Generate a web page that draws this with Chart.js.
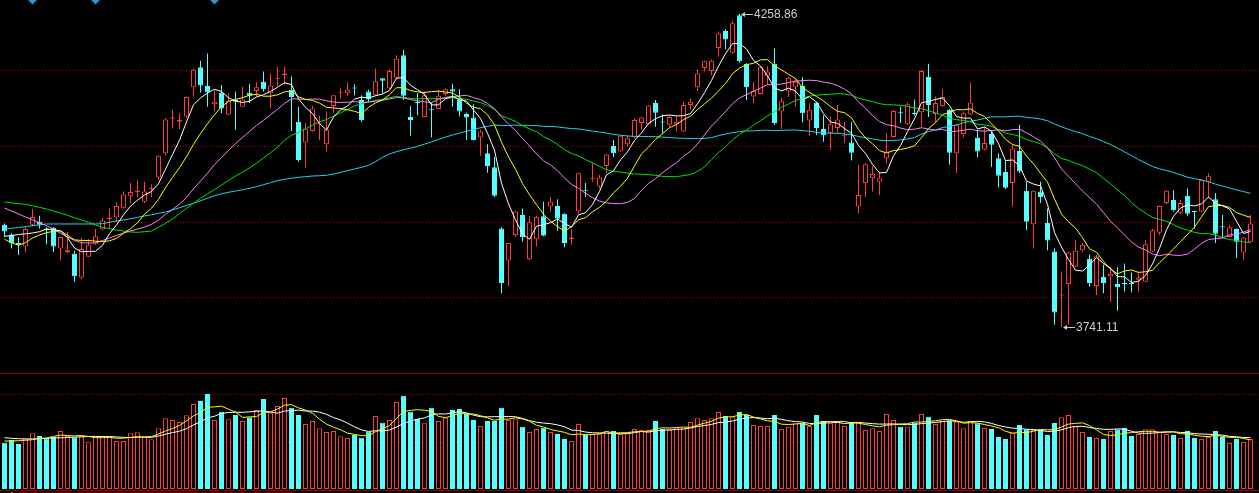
<!DOCTYPE html>
<html lang="zh-CN">
<head>
<meta charset="UTF-8">
<title>K线图</title>
<style>
  html, body { margin: 0; padding: 0; background: #000; }
  #wrap { position: relative; width: 1259px; height: 493px; overflow: hidden; background: #000; }
  #priceBox { position: absolute; left: 0; top: 0; width: 1259px; height: 373px; }
  #volBox { position: absolute; left: 0; top: 373px; width: 1259px; height: 120px; }
</style>
</head>
<body>
<div id="wrap">
  <div id="priceBox"><canvas id="price"></canvas></div>
  <div id="volBox"><canvas id="vol"></canvas></div>
</div>

<script src="https://cdn.jsdelivr.net/npm/chart.js"></script>
<script>
// ---- data ----
const open = [3910,3894,3880,3874,3910,3915,3904,3905,3871,3865,
  3862,3823,3857,3879,3902,3919,3922,3938,3958,3964,
  3948,3969,3988,4028,4085,4080,4089,4137,4170,4139,
  4109,4128,4092,4116,4105,4128,4131,4146,4127,4151,
  4157,4133,4080,4046,4065,4076,4043,4106,4128,4127,
  4136,4116,4130,4124,4152,4135,4153,4190,4088,4112,
  4088,4100,4101,4126,4134,4117,4093,4087,4054,4028,
  4005,3904,3851,3893,3926,3853,3886,3924,3940,3941,
  3928,3886,3932,3967,3986,3973,4007,4040,4031,4043,
  4054,4078,4076,4111,4080,4075,4076,4064,4108,4137,
  4169,4164,4202,4230,4194,4256,4176,4122,4126,4155,
  4176,4097,4130,4138,4139,4082,4112,4068,4062,4070,
  4056,4046,3940,3979,3987,3981,4020,4055,4095,4076,
  4095,4096,4154,4093,4106,4100,4028,4060,4092,4054,
  4034,4060,4020,3997,3979,4032,3966,3911,3965,3913,
  3866,3793,3812,3841,3868,3854,3809,3824,3825,3812,
  3813,3813,3819,3816,3866,3897,3946,3951,3930,3958,
  3932,3932,3981,3952,3907,3890,3903,3864,3882];

const high = [3912,3896,3890,3907,3936,3925,3906,3906,3890,3898,
  3867,3888,3886,3903,3921,3937,3947,3965,3979,3984,
  3981,3977,4025,4086,4100,4094,4122,4168,4181,4193,
  4133,4141,4127,4130,4138,4143,4145,4163,4160,4171,
  4171,4155,4105,4078,4106,4090,4097,4124,4136,4145,
  4142,4124,4133,4168,4152,4167,4190,4199,4106,4127,
  4130,4111,4133,4135,4143,4134,4095,4109,4067,4043,
  4022,3906,3880,3933,3937,3925,3925,3948,3956,3952,
  3929,3903,3996,3979,4012,3992,4027,4050,4058,4058,
  4086,4088,4108,4116,4092,4091,4089,4113,4119,4167,
  4181,4183,4229,4233,4247,4258.86,4177,4146,4171,4172,
  4201,4120,4154,4152,4154,4111,4113,4091,4089,4108,
  4080,4080,4009,4011,4007,3998,4061,4100,4105,4112,
  4117,4166,4176,4122,4134,4101,4076,4097,4145,4067,
  4072,4064,4028,4016,4042,4075,3981,3967,3981,3937,
  3871,3833,3865,3885,3880,3861,3860,3844,3841,3840,
  3846,3831,3833,3885,3903,3942,3967,3967,3951,3970,
  3933,3985,3995,3962,3926,3910,3904,3890,3926];

const low = [3890,3871,3860,3864,3907,3904,3878,3865,3851,3863,
  3816,3820,3857,3877,3901,3904,3915,3937,3946,3956,
  3946,3956,3984,4025,4069,4068,4086,4122,4128,4105,
  4098,4094,4091,4067,4105,4111,4122,4130,4102,4139,
  4141,4065,4014,4004,4064,4050,4031,4095,4119,4123,
  4124,4080,4113,4123,4127,4134,4150,4116,4057,4091,
  4088,4054,4101,4123,4105,4089,4050,4049,4024,3996,
  3956,3797,3809,3890,3882,3852,3874,3891,3932,3900,
  3873,3877,3928,3956,3981,3970,3995,4022,4030,4039,
  4053,4067,4075,4072,4061,4071,4064,4063,4100,4131,
  4163,4157,4188,4200,4193,4178,4116,4111,4125,4141,
  4075,4068,4121,4105,4079,4057,4058,4047,4034,4061,
  4045,4016,3928,3956,3965,3959,4011,4054,4078,4075,
  4091,4072,4088,4078,4105,4009,3995,4054,4091,4021,
  4033,4006,3972,3969,3940,3995,3901,3871,3946,3868,
  3745,3741.11,3745,3840,3865,3808,3794,3797,3783,3768,
  3800,3798,3800,3815,3865,3893,3944,3932,3928,3925,
  3904,3931,3954,3880,3888,3889,3855,3852,3881];

const close = [3899,3880,3877,3903,3923,3910,3901,3874,3890,3868,
  3825,3870,3877,3891,3917,3922,3941,3960,3964,3966,
  3965,3970,4024,4084,4087,4083,4121,4166,4140,4129,
  4113,4102,4115,4113,4117,4123,4137,4134,4140,4152,
  4160,4121,4017,4069,4102,4077,4067,4124,4129,4133,
  4135,4083,4117,4147,4148,4164,4184,4123,4083,4111,
  4124,4099,4123,4134,4130,4097,4087,4050,4064,4007,
  3958,3814,3880,3932,3890,3914,3923,3892,3948,3920,
  3880,3889,3995,3966,3987,3988,4026,4028,4057,4053,
  4083,4087,4107,4095,4079,4088,4080,4108,4113,4160,
  4180,4181,4226,4216,4243,4180,4137,4131,4170,4163,
  4078,4114,4153,4146,4094,4100,4070,4058,4076,4084,
  4057,4029,3959,4010,3994,3987,4031,4098,4094,4109,
  4093,4164,4108,4111,4121,4029,4075,4094,4112,4031,
  4045,4042,3991,3971,4036,3998,3915,3966,3956,3884,
  3765,3795,3864,3867,3877,3814,3858,3814,3829,3807,
  3812,3812,3823,3878,3901,3941,3966,3934,3946,3928,
  3931,3984,3990,3895,3906,3906,3882,3889,3912];

const volume = [463,490,450,507,557,530,507,523,580,530,
  517,523,473,523,530,530,480,480,557,567,
  523,497,607,707,690,670,737,850,880,950,
  690,773,697,740,680,717,790,900,763,830,
  910,813,740,650,680,607,570,580,527,510,
  540,513,573,730,663,690,870,933,773,700,
  663,813,680,713,790,800,757,690,630,680,
  680,813,690,697,623,570,600,613,570,550,
  500,480,650,540,550,550,580,580,550,557,
  600,590,590,680,600,590,613,613,670,707,
  690,707,770,730,717,770,740,640,630,630,
  740,600,623,657,663,630,740,680,657,670,
  630,670,663,590,607,580,750,690,623,623,
  663,750,723,650,680,680,673,607,677,657,
  610,600,520,500,563,640,597,590,590,540,
  660,717,740,623,570,520,510,500,580,597,
  610,530,550,597,597,570,550,540,510,580,
  510,500,520,580,520,460,500,470,500];

// moving-average values at the left edge, before a full window is on screen
const ma5Warm = [3891,3892,3894,3895];
const ma10Warm = [3886.0,3880.4,3876.1,3880.4,3888.1,3893.1,3896.9,3899.2,3900.2];
const ma20Warm = [3937.7,3932.7,3927.8,3922.8,3918.4,3913.4,3908.5,3903.0,3895.9,3889.8,
  3884.4,3880.4,3879.9,3879.9,3884.0,3888.1,3892.3,3896.4,3899.7];
const ma30Warm = [3947.6,3946.4,3944.8,3943.8,3941.5,3938.8,3936.0,3932.7,3929.4,3925.6,
  3921.7,3917.9,3914.1,3909.6,3905.8,3903.5,3901.4,3899.7,3898.0,3897.6,
  3898.5,3899.7,3905.8,3912.4,3919.5,3928.3,3937.2,3945.5,3953.7];
const ma60Warm = [3903.0,3904.2,3905.5,3906.8,3908.5,3909.9,3911.3,3911.3,3911.3,3911.3,
  3911.3,3911.3,3911.3,3911.3,3911.8,3914.1,3916.2,3917.9,3920.0,3922.3,
  3924.5,3926.6,3928.9,3931.1,3934.4,3938.2,3942.1,3945.5,3949.7,3953.7,
  3958.0,3961.3,3963.6,3965.8,3967.9,3970.2,3972.9,3976.2,3979.5,3982.8,
  3985.1,3986.7,3988.4,3989.4,3990.5,3991.0,3991.7,3993.8,3996.6,3999.3,
  4002.1,4004.9,4008.2,4014.2,4021.4,4026.9,4030.7,4033.9,4036.3];
const volMa5Warm = [480,480,483,487];
const volMa10Warm = [513,507,503,500,500,503,507,510,512];

const priceGrid = [4165, 4040, 3915, 3790];
const volGrid = [947, 473];
const markerIdx = [4, 13, 30];
// short marks on the time strip under the volume bars
const stripTicks = [2, 12, 19, 25, 30, 41];

// ---- look ----
const RED = '#ff3c3c';
const CYAN = '#54ffff';
const BLACK = '#000000';
const GRID_RED = '#b00000';
const LINE_RED = '#8c0000';
const LABEL = '#c8cdd6';

const X_MIN = -4.5 / 7;
const X_MAX = X_MIN + 1259 / 7;

function movingAverage(values, n, warm) {
  return values.map((_, i) => {
    if (i < n - 1) return warm[i];
    let s = 0;
    for (let k = i - n + 1; k <= i; k++) s += values[k];
    return s / n;
  });
}
const xy = arr => arr.map((v, i) => ({ x: i, y: v }));

const isUp = close.map((c, i) => c >= open[i]);
const fillCol = isUp.map(u => u ? BLACK : CYAN);
const edgeCol = isUp.map(u => u ? RED : CYAN);

function maLine(data, color) {
  return {
    type: 'line', data: xy(data), borderColor: color, borderWidth: 1,
    pointRadius: 0, tension: 0, order: 0
  };
}

const xScale = {
  type: 'linear', min: X_MIN, max: X_MAX, offset: false,
  display: false, grid: { display: false, offset: false }
};

function dottedLines(chart, values) {
  const { ctx, chartArea, scales: { y } } = chart;
  ctx.save();
  ctx.strokeStyle = GRID_RED;
  ctx.lineWidth = 1;
  ctx.setLineDash([1, 2]);
  values.forEach(v => {
    const py = Math.round(y.getPixelForValue(v)) + 0.5;
    ctx.beginPath();
    ctx.moveTo(chartArea.left, py);
    ctx.lineTo(chartArea.right, py);
    ctx.stroke();
  });
  ctx.restore();
}

// grid, extreme labels and the little markers at the top
const priceDecor = {
  id: 'priceDecor',
  beforeDatasetsDraw(chart) {
    dottedLines(chart, priceGrid);
  },
  afterDatasetsDraw(chart) {
    const { ctx, scales: { x, y } } = chart;
    ctx.save();

    ctx.fillStyle = '#2896cf';
    markerIdx.forEach(i => {
      const px = x.getPixelForValue(i);
      ctx.beginPath();
      ctx.moveTo(px - 4.5, 0);
      ctx.lineTo(px + 4.5, 0);
      ctx.lineTo(px, 4.5);
      ctx.closePath();
      ctx.fill();
    });

    const hi = high.indexOf(Math.max(...high));
    const lo = low.indexOf(Math.min(...low));
    ctx.font = '12px "Liberation Sans", Arial, sans-serif';
    ctx.textBaseline = 'middle';
    [[hi, high[hi]], [lo, low[lo]]].forEach(([i, v]) => {
      const px = Math.round(x.getPixelForValue(i));
      const py = Math.round(y.getPixelForValue(v)) + 0.5;
      ctx.strokeStyle = LABEL;
      ctx.fillStyle = LABEL;
      ctx.lineWidth = 1;
      ctx.beginPath();
      ctx.moveTo(px + 2, py);
      ctx.lineTo(px + 13, py);
      ctx.stroke();
      ctx.beginPath();
      ctx.moveTo(px + 1, py);
      ctx.lineTo(px + 5, py - 2.5);
      ctx.lineTo(px + 5, py + 2.5);
      ctx.closePath();
      ctx.fill();
      ctx.fillText(v.toFixed(2), px + 14, py);
    });
    ctx.restore();
  }
};

const volDecor = {
  id: 'volDecor',
  beforeDatasetsDraw(chart) {
    const { ctx, chartArea, scales: { x } } = chart;
    ctx.save();
    ctx.strokeStyle = LINE_RED;
    ctx.lineWidth = 1;
    ctx.beginPath();
    ctx.moveTo(0, 0.5);
    ctx.lineTo(chart.width, 0.5);
    ctx.moveTo(0, chartArea.bottom + 1.5);
    ctx.lineTo(chart.width, chartArea.bottom + 1.5);
    ctx.stroke();

    // time strip
    const x0 = Math.round(x.getPixelForValue(stripTicks[0])) + 0.5;
    const x1 = Math.round(x.getPixelForValue(stripTicks[stripTicks.length - 1])) + 0.5;
    ctx.strokeStyle = '#6a0000';
    ctx.beginPath();
    ctx.moveTo(x0, chartArea.bottom + 3.5);
    ctx.lineTo(x1, chartArea.bottom + 3.5);
    stripTicks.forEach(i => {
      const px = Math.round(x.getPixelForValue(i)) + 0.5;
      ctx.moveTo(px, chartArea.bottom + 2);
      ctx.lineTo(px, chart.height);
    });
    ctx.stroke();
    ctx.fillStyle = RED;
    ctx.fillRect(11, chartArea.bottom + 3, 2, 2);
    ctx.restore();

    dottedLines(chart, volGrid);
  }
};

const common = {
  responsive: true,
  maintainAspectRatio: false,
  animation: false,
  events: [],
  plugins: { legend: { display: false }, tooltip: { enabled: false } }
};

new Chart(document.getElementById('price'), {
  type: 'bar',
  data: {
    datasets: [
      maLine(movingAverage(close, 5, ma5Warm), '#ffffff'),
      maLine(movingAverage(close, 10, ma10Warm), '#ffff00'),
      maLine(movingAverage(close, 20, ma20Warm), '#ff80ff'),
      maLine(movingAverage(close, 30, ma30Warm), '#00e600'),
      maLine(movingAverage(close, 60, ma60Warm), '#1ed6f0'),
      {
        // bodies
        data: open.map((o, i) => ({ x: i, y: [o, close[i]] })),
        backgroundColor: fillCol, borderColor: edgeCol, borderWidth: 1,
        borderSkipped: false, barThickness: 5, minBarLength: 1,
        grouped: false, inflateAmount: 0, order: 1
      },
      {
        // wicks
        data: high.map((h, i) => ({ x: i, y: [low[i], h] })),
        backgroundColor: edgeCol, borderWidth: 0,
        barThickness: 1, grouped: false, inflateAmount: 0, order: 2
      }
    ]
  },
  options: {
    ...common,
    layout: { autoPadding: false, padding: 0 },
    scales: {
      x: xScale,
      y: { min: 3665.2, max: 4281.2, display: false, beginAtZero: false }
    }
  },
  plugins: [priceDecor]
});

new Chart(document.getElementById('vol'), {
  type: 'bar',
  data: {
    datasets: [
      maLine(movingAverage(volume, 5, volMa5Warm), '#ffff00'),
      maLine(movingAverage(volume, 10, volMa10Warm), '#ffffff'),
      {
        data: xy(volume),
        backgroundColor: fillCol, borderColor: edgeCol, borderWidth: 1,
        borderSkipped: false, barThickness: 5,
        grouped: false, inflateAmount: 0, order: 1
      }
    ]
  },
  options: {
    ...common,
    layout: { autoPadding: false, padding: { top: 1, bottom: 4, left: 0, right: 0 } },
    scales: {
      x: xScale,
      y: { min: 0, max: 1150, display: false }
    }
  },
  plugins: [volDecor]
});
</script>
</body>
</html>
